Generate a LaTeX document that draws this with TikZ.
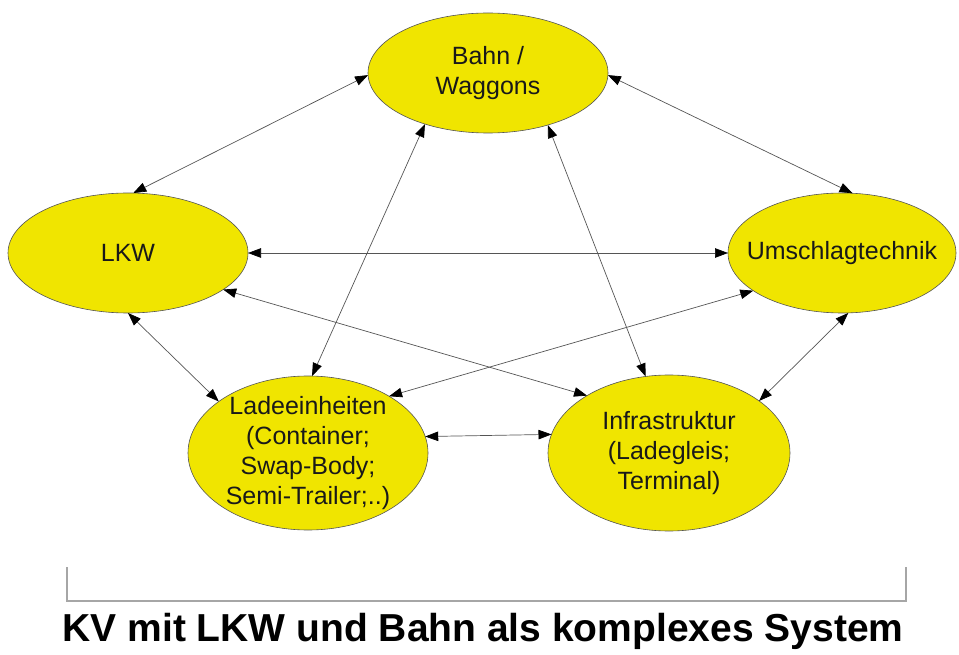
\documentclass[tikz,border=0pt]{standalone}
\usepackage{fontspec}
\setmainfont{Liberation Sans}
\usetikzlibrary{shapes.geometric,arrows.meta}
\definecolor{blobyellow}{RGB}{240,229,0}
\definecolor{linegray}{RGB}{85,85,85}
\tikzset{
  blob/.style={ellipse, draw=linegray, line width=0.6pt, fill=blobyellow,
    inner sep=0pt, outer sep=0pt, minimum width=#1},
  blobtext/.style={align=center, text=black!90, font=\fontsize{25}{30}\selectfont},
  arr/.style={{Triangle[length=13pt,width=9.5pt,color=black]}-{Triangle[length=13pt,width=9.5pt,color=black]},
    draw=linegray, line width=0.7pt},
  brack/.style={draw=gray!70, line width=1.3pt}
}
\begin{document}
\begin{tikzpicture}[x=1pt,y=-1pt]
\useasboundingbox (0,0) rectangle (959,655);
% nodes
\node[blob=240pt, minimum height=120pt, label={[blobtext]center:Bahn /\\Waggons}] (bahn) at (488,73) {};
\node[blob=240pt, minimum height=120pt, label={[blobtext]center:LKW}] (lkw) at (128,253) {};
\node[blob=228pt, minimum height=120pt, label={[blobtext]center:Umschlagtechnik}] (ums) at (842,253) {};
\node[blob=240pt, minimum height=154pt, label={[blobtext]center:Ladeeinheiten\\(Container;\\Swap-Body;\\Semi-Trailer;..)}] (lade) at (308,453) {};
\node[blob=242pt, minimum height=156pt, label={[blobtext]center:Infrastruktur\\(Ladegleis;\\Terminal)}] (infra) at (669,453) {};
% connectors
\draw[arr] (bahn.181.4) -- (lkw.85.3);
\draw[arr] (bahn.-1.4) -- (ums.80.5);
\draw[arr] (bahn.219.2) -- (lade.87.7);
\draw[arr] (bahn.-41.5) -- (infra.107.7);
\draw[arr] (lkw) -- (ums);
\draw[arr] (lkw.-21.2) -- (infra.145.1);
\draw[arr] (ums.203.6) -- (lade.35.6);
\draw[arr] (lkw.-90) -- (lade.150.2);
\draw[arr] (lade.8.8) -- (infra.171.3);
\draw[arr] (ums.-84.3) -- (infra.30.7);
% bracket
\coordinate (btl) at (67,567);
\coordinate (bbl) at (67,601);
\coordinate (bbr) at (906,601);
\coordinate (btr) at (906,567);
\draw[brack] (btl) -- (bbl) -- (bbr) -- (btr);
% title
\node[anchor=base, inner sep=0pt, font=\bfseries\fontsize{39}{47}\selectfont] (title) at (483,641) {KV mit LKW und Bahn als komplexes System};
\end{tikzpicture}
\end{document}
